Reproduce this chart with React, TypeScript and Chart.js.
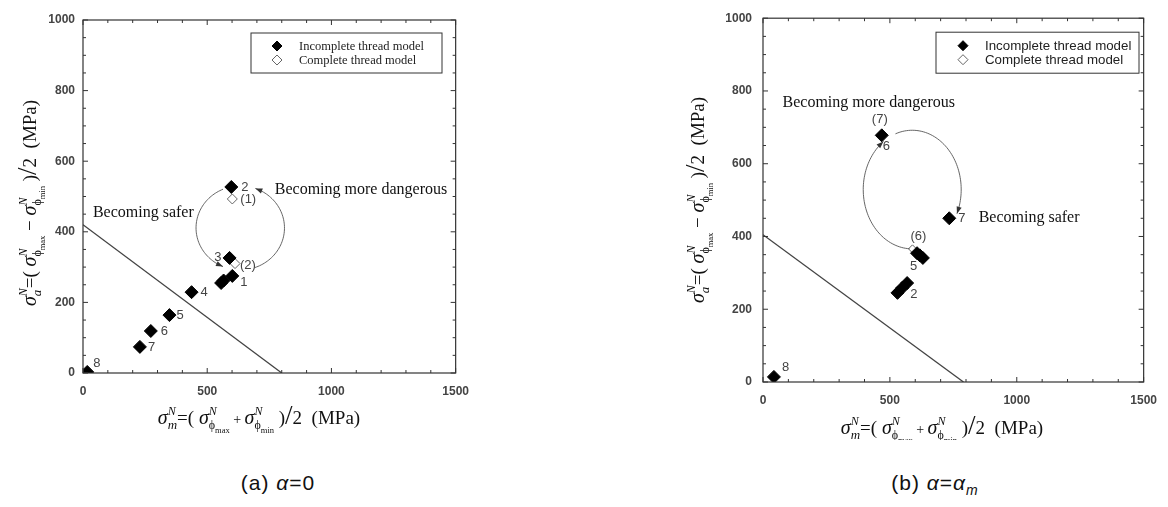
import React, { useEffect, useRef } from 'react';
import { Chart, registerables } from 'chart.js';
Chart.register(...registerables);

// ---------- data: (a) alpha = 0 ----------
const A_INC_X = [601, 597, 590, 437, 348, 273, 229, 17, 556, 566];
const A_INC_Y = [275, 527, 326, 229, 164, 119, 74, 3, 255, 262];
const A_INC_LABELS = ['1', '2', '3', '4', '5', '6', '7', '8', '', ''];
const A_COM_X = [601, 612];
const A_COM_Y = [493, 310];
const A_COM_LABELS = ['(1)', '(2)'];
const A_LINE_X = [0, 800];
const A_LINE_Y = [420, 0];

// ---------- data: (b) alpha = alpha_m ----------
const B_INC_X = [530, 549, 568, 607, 618, 630, 468, 734, 43];
const B_INC_Y = [245, 259, 272, 354, 348, 341, 678, 450, 14];
const B_INC_LABELS = ['', '', '2', '5', '', '', '6', '7', '8'];
const B_COM_X = [589, 468];
const B_COM_Y = [366, 678];
const B_COM_LABELS = ['(6)', '(7)'];
const B_LINE_X = [0, 790];
const B_LINE_Y = [405, 0];

// ---------- axes ----------
const X_TICKS = [0, 500, 1000, 1500];
const Y_TICKS = [0, 200, 400, 600, 800, 1000];
const LEGEND_LABELS = ['Incomplete thread model', 'Complete thread model'];
const CAPTION_A = '(a) ';
const CAPTION_B = '(b) ';

type Seg = { t: string; s: number; dy?: number; it?: boolean; g?: 'start' | 'back' | 'in' };

const SERIF = '"Liberation Serif", "Times New Roman", serif';
const SANS = '"Liberation Sans", Arial, sans-serif';

function sigmaGroup(sub: string): Seg[] {
  return [
    { t: 'σ', s: 20, it: true },
    { t: 'N', s: 12, it: true, dy: -9, g: 'start' },
    { t: 'ϕ', s: 12, dy: 5, g: 'back' },
    { t: sub, s: 8.5, dy: 9, g: 'in' },
  ];
}

const X_TITLE: Seg[] = [
  { t: 'σ', s: 20, it: true },
  { t: 'N', s: 12, it: true, dy: -9, g: 'start' },
  { t: 'm', s: 13, it: true, dy: 5, g: 'back' },
  { t: '=( ', s: 19 },
  ...sigmaGroup('max'),
  { t: ' + ', s: 14 },
  ...sigmaGroup('min'),
  { t: ' )', s: 19 },
  { t: '/', s: 27 },
  { t: '2  (MPa)', s: 19 },
];

const Y_TITLE: Seg[] = [
  { t: 'σ', s: 20, it: true },
  { t: 'N', s: 12, it: true, dy: -9, g: 'start' },
  { t: 'a', s: 13, it: true, dy: 5, g: 'back' },
  { t: '=( ', s: 19 },
  ...sigmaGroup('max'),
  { t: ' − ', s: 19 },
  ...sigmaGroup('min'),
  { t: ' )', s: 19 },
  { t: '/', s: 27 },
  { t: '2  (MPa)', s: 19 },
];

function drawRich(ctx: CanvasRenderingContext2D, segs: Seg[], cx: number, cy: number, vertical: boolean) {
  let x = 0, gx = 0, gmax = 0, inGroup = false;
  const items: { seg: Seg; x: number }[] = [];
  for (const sg of segs) {
    if (sg.g === 'start') {
      if (inGroup) x = Math.max(x, gmax);
      gx = x; gmax = x; inGroup = true;
    } else if (sg.g === 'back') {
      gmax = Math.max(gmax, x); x = gx;
    } else if (sg.g === 'in') {
      // continue
    } else if (inGroup) {
      x = Math.max(x, gmax); inGroup = false;
    }
    ctx.font = `${sg.it ? 'italic ' : ''}${sg.s}px ${SERIF}`;
    const w = ctx.measureText(sg.t).width;
    items.push({ seg: sg, x });
    x += w;
    if (inGroup) gmax = Math.max(gmax, x);
  }
  if (inGroup) x = Math.max(x, gmax);
  const width = x;
  ctx.save();
  ctx.translate(cx, cy);
  if (vertical) ctx.rotate(-Math.PI / 2);
  ctx.fillStyle = '#111';
  ctx.textBaseline = 'alphabetic';
  ctx.textAlign = 'left';
  for (const it of items) {
    ctx.font = `${it.seg.it ? 'italic ' : ''}${it.seg.s}px ${SERIF}`;
    ctx.fillText(it.seg.t, -width / 2 + it.x, 6 + (it.seg.dy || 0));
  }
  ctx.restore();
}

type Arc = { cx: number; cy: number; rx: number; ry: number; a0: number; a1: number };
type Note = { t: string; x: number; y: number };
type LabelOff = [number, number, CanvasTextAlign];

type Cfg = {
  incX: number[]; incY: number[]; incLabels: string[]; incOff: LabelOff[];
  comX: number[]; comY: number[]; comLabels: string[]; comOff: LabelOff[];
  lineX: number[]; lineY: number[];
  arcs: Arc[]; notes: Note[];
  legend: { dx: number; dy: number; w: number; h: number; font: string; size: number; textDx: number; markDx: number; rowGap: number };
  xTitle: [number, number]; yTitle: [number, number];
  padding: { left: number; top: number; right: number; bottom: number };
  yWidth: number; xHeight: number; yTickPad: number; xTickPad: number;
  incR: number; comR: number;
};

function makeDecor(cfg: Cfg) {
  return {
    id: 'decor',
    afterDraw(chart: any) {
      const ctx: CanvasRenderingContext2D = chart.ctx;
      const xs = chart.scales.x, ys = chart.scales.y;
      const { left, right, top, bottom } = chart.chartArea;
      ctx.save();
      // frame
      ctx.strokeStyle = '#333';
      ctx.lineWidth = 1.2;
      ctx.strokeRect(left, top, right - left, bottom - top);
      // ticks (inward, both sides)
      ctx.lineWidth = 1;
      for (let v = xs.min; v <= xs.max + 0.01; v += 100) {
        const p = xs.getPixelForValue(v);
        const L = v % 500 === 0 ? 5 : 3;
        ctx.beginPath();
        ctx.moveTo(p, bottom); ctx.lineTo(p, bottom - L);
        ctx.moveTo(p, top); ctx.lineTo(p, top + L);
        ctx.stroke();
      }
      for (let v = ys.min; v <= ys.max + 0.01; v += 50) {
        const p = ys.getPixelForValue(v);
        const L = v % 200 === 0 ? 5 : 3;
        ctx.beginPath();
        ctx.moveTo(left, p); ctx.lineTo(left + L, p);
        ctx.moveTo(right, p); ctx.lineTo(right - L, p);
        ctx.stroke();
      }
      // arcs with arrows
      ctx.strokeStyle = '#555';
      ctx.fillStyle = '#333';
      ctx.lineWidth = 0.9;
      for (const a of cfg.arcs) {
        const cxp = xs.getPixelForValue(a.cx), cyp = ys.getPixelForValue(a.cy);
        const rxp = Math.abs(xs.getPixelForValue(a.cx + a.rx) - cxp);
        const ryp = Math.abs(ys.getPixelForValue(a.cy + a.ry) - cyp);
        const n = 60;
        const pts: [number, number][] = [];
        for (let i = 0; i <= n; i++) {
          const ang = ((a.a0 + (a.a1 - a.a0) * i / n) * Math.PI) / 180;
          pts.push([cxp + rxp * Math.cos(ang), cyp + ryp * Math.sin(ang)]);
        }
        ctx.beginPath();
        pts.forEach((p, i) => (i ? ctx.lineTo(p[0], p[1]) : ctx.moveTo(p[0], p[1])));
        ctx.stroke();
        const [ex, ey] = pts[n];
        const [px, py] = pts[n - 2];
        const d = Math.atan2(ey - py, ex - px);
        ctx.beginPath();
        ctx.moveTo(ex, ey);
        ctx.lineTo(ex - 7 * Math.cos(d) + 2.6 * Math.sin(d), ey - 7 * Math.sin(d) - 2.6 * Math.cos(d));
        ctx.lineTo(ex - 7 * Math.cos(d) - 2.6 * Math.sin(d), ey - 7 * Math.sin(d) + 2.6 * Math.cos(d));
        ctx.closePath();
        ctx.fill();
      }
      // notes
      ctx.fillStyle = '#111';
      ctx.font = `16px ${SERIF}`;
      ctx.textAlign = 'left';
      ctx.textBaseline = 'middle';
      for (const nt of cfg.notes) {
        ctx.fillText(nt.t, xs.getPixelForValue(nt.x), ys.getPixelForValue(nt.y));
      }
      // point labels
      ctx.fillStyle = '#444';
      ctx.font = `13px ${SANS}`;
      const lab = (dsIndex: number, labels: string[], offs: LabelOff[]) => {
        const meta = chart.getDatasetMeta(dsIndex);
        labels.forEach((t, i) => {
          if (!t) return;
          const el = meta.data[i];
          const o = offs[i];
          ctx.textAlign = o[2];
          ctx.fillText(t, el.x + o[0], el.y + o[1]);
        });
      };
      lab(1, cfg.comLabels, cfg.comOff);
      lab(2, cfg.incLabels, cfg.incOff);
      // legend
      const lg = cfg.legend;
      const bx = left + lg.dx, by = top + lg.dy;
      ctx.fillStyle = '#fff';
      ctx.fillRect(bx, by, lg.w, lg.h);
      ctx.strokeStyle = '#333';
      ctx.lineWidth = 1;
      ctx.strokeRect(bx, by, lg.w, lg.h);
      const rows = [
        { ds: chart.data.datasets[2], y: by + lg.h / 2 - lg.rowGap / 2 },
        { ds: chart.data.datasets[1], y: by + lg.h / 2 + lg.rowGap / 2 },
      ];
      rows.forEach((r) => {
        const mx = bx + lg.markDx, r0 = 5;
        ctx.beginPath();
        ctx.moveTo(mx - r0, r.y); ctx.lineTo(mx, r.y - r0); ctx.lineTo(mx + r0, r.y); ctx.lineTo(mx, r.y + r0);
        ctx.closePath();
        ctx.fillStyle = r.ds.backgroundColor;
        ctx.fill();
        ctx.strokeStyle = r.ds.borderColor;
        ctx.lineWidth = 1;
        ctx.stroke();
        ctx.fillStyle = '#222';
        ctx.font = `${lg.size}px ${lg.font}`;
        ctx.textAlign = 'left';
        ctx.textBaseline = 'middle';
        ctx.fillText(r.ds.label, bx + lg.textDx, r.y + 1);
      });
      ctx.restore();
      // axis titles
      drawRich(ctx, X_TITLE, cfg.xTitle[0], cfg.xTitle[1], false);
      drawRich(ctx, Y_TITLE, cfg.yTitle[0], cfg.yTitle[1], true);
    },
  };
}

function toPts(xs: number[], ys: number[]) {
  return xs.map((x, i) => ({ x, y: ys[i] }));
}

function buildChart(canvas: HTMLCanvasElement, cfg: Cfg) {
  const tickFont = { family: SANS, size: 12, weight: 'bold' };
  return new Chart(canvas, {
    type: 'scatter',
    data: {
      datasets: [
        {
          type: 'line',
          label: 'limit',
          data: toPts(cfg.lineX, cfg.lineY),
          borderColor: '#444',
          borderWidth: 1.3,
          pointRadius: 0,
          fill: false,
          order: 3,
        } as any,
        {
          label: LEGEND_LABELS[1],
          data: toPts(cfg.comX, cfg.comY),
          pointStyle: 'rectRot',
          pointRadius: cfg.comR,
          backgroundColor: '#fff',
          borderColor: '#666',
          borderWidth: 1,
          order: 2,
        },
        {
          label: LEGEND_LABELS[0],
          data: toPts(cfg.incX, cfg.incY),
          pointStyle: 'rectRot',
          pointRadius: cfg.incR,
          backgroundColor: '#000',
          borderColor: '#000',
          borderWidth: 1,
          order: 1,
        },
      ],
    },
    options: {
      responsive: false,
      animation: false,
      devicePixelRatio: 1,
      layout: { padding: cfg.padding },
      plugins: { legend: { display: false }, tooltip: { enabled: false } },
      scales: {
        x: {
          type: 'linear',
          min: 0,
          max: 1500,
          grid: { display: false, drawTicks: false },
          border: { display: false },
          ticks: { padding: cfg.xTickPad, color: '#444', font: tickFont, callback: (v: any) => String(v) },
          afterBuildTicks: (s: any) => { s.ticks = X_TICKS.map((v) => ({ value: v })); },
          afterFit: (s: any) => { s.height = cfg.xHeight; },
        },
        y: {
          type: 'linear',
          min: 0,
          max: 1000,
          grid: { display: false, drawTicks: false },
          border: { display: false },
          ticks: { padding: cfg.yTickPad, color: '#444', font: tickFont, callback: (v: any) => String(v) },
          afterBuildTicks: (s: any) => { s.ticks = Y_TICKS.map((v) => ({ value: v })); },
          afterFit: (s: any) => { s.width = cfg.yWidth; },
        },
      },
    } as any,
    plugins: [makeDecor(cfg)],
  });
}

const CFG_A: Cfg = {
  incX: A_INC_X, incY: A_INC_Y, incLabels: A_INC_LABELS,
  incOff: [[8, 6, 'left'], [10, 0, 'left'], [-8, -1, 'right'], [9, 0, 'left'], [7, 0, 'left'], [10, 0, 'left'], [8, 1, 'left'], [6, -9, 'left'], [0, 0, 'left'], [0, 0, 'left']],
  comX: A_COM_X, comY: A_COM_Y, comLabels: A_COM_LABELS,
  comOff: [[8, 0, 'left'], [5, 2, 'left']],
  lineX: A_LINE_X, lineY: A_LINE_Y,
  arcs: [
    { cx: 633, cy: 411, rx: 178, ry: 119, a0: -113, a1: -247 },
    { cx: 633, cy: 411, rx: 178, ry: 119, a0: 71, a1: -70 },
  ],
  notes: [
    { t: 'Becoming more dangerous', x: 772, y: 518 },
    { t: 'Becoming safer', x: 40, y: 453 },
  ],
  legend: { dx: 168, dy: 13, w: 191, h: 40, font: SERIF, size: 12.5, textDx: 48, markDx: 26, rowGap: 14 },
  xTitle: [259, 418], yTitle: [30, 203],
  padding: { left: 0, top: 20, right: 18, bottom: 0 },
  yWidth: 83, xHeight: 67, yTickPad: 8, xTickPad: 11,
  incR: 6.5, comR: 5,
};

const CFG_B: Cfg = {
  incX: B_INC_X, incY: B_INC_Y, incLabels: B_INC_LABELS,
  incOff: [[0, 0, 'left'], [0, 0, 'left'], [3, 11, 'left'], [-7, 13, 'left'], [0, 0, 'left'], [0, 0, 'left'], [1, 11, 'left'], [9, 0, 'left'], [8, -9, 'left']],
  comX: B_COM_X, comY: B_COM_Y, comLabels: B_COM_LABELS,
  comOff: [[6, -12, 'center'], [-2, -16, 'center']],
  lineX: B_LINE_X, lineY: B_LINE_Y,
  arcs: [
    { cx: 588, cy: 529, rx: 193, ry: 163, a0: 93, a1: 234 },
    { cx: 588, cy: 529, rx: 193, ry: 163, a0: 250, a1: 384 },
  ],
  notes: [
    { t: 'Becoming more dangerous', x: 77, y: 768 },
    { t: 'Becoming safer', x: 850, y: 452 },
  ],
  legend: { dx: 173, dy: 14, w: 203, h: 41, font: SANS, size: 13.3, textDx: 49, markDx: 27, rowGap: 14 },
  xTitle: [342, 428], yTitle: [98, 200],
  padding: { left: 0, top: 15, right: 17, bottom: 0 },
  yWidth: 163, xHeight: 58, yTickPad: 11, xTickPad: 11,
  incR: 6.5, comR: 4,
};

function Panel({ cfg, left, width }: { cfg: Cfg; left: number; width: number }) {
  const ref = useRef<HTMLCanvasElement | null>(null);
  useEffect(() => {
    if (!ref.current) return;
    const ch = buildChart(ref.current, cfg);
    return () => ch.destroy();
  }, [cfg]);
  return (
    <canvas
      ref={ref}
      width={width}
      height={440}
      style={{ position: 'absolute', left, top: 0, width, height: 440 }}
    />
  );
}

export default function App() {
  const cap: React.CSSProperties = {
    position: 'absolute',
    top: 471,
    width: 300,
    textAlign: 'center',
    fontFamily: SANS,
    fontSize: 21,
    letterSpacing: 1,
    color: '#111',
  };
  return (
    <div style={{ position: 'absolute', left: 0, top: 0, width: 1168, height: 507, background: '#fff', overflow: 'hidden' }}>
      <Panel cfg={CFG_A} left={0} width={480} />
      <Panel cfg={CFG_B} left={600} width={568} />
      <div style={{ ...cap, left: 128 }}>
        {CAPTION_A}<i>α</i>=0
      </div>
      <div style={{ ...cap, left: 785 }}>
        {CAPTION_B}<i>α</i>=<i>α</i><sub style={{ fontSize: 14 }}><i>m</i></sub>
      </div>
    </div>
  );
}
